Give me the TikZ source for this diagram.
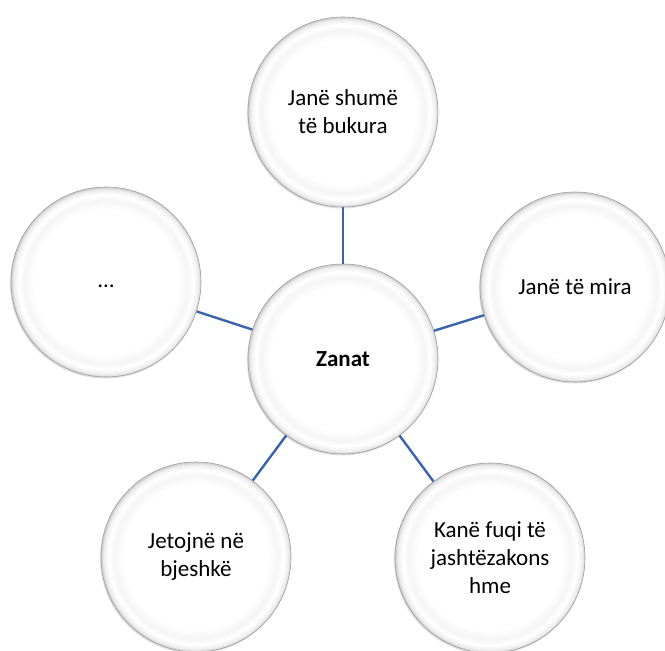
\documentclass[tikz,border=0pt]{standalone}
\usepackage{fontspec}
\setmainfont{Carlito}
\usetikzlibrary{shadows}
\definecolor{linkblue}{HTML}{3B64AD}
\pgfdeclareradialshading{bubbleshade}{\pgfpoint{0bp}{0bp}}{color(0bp)=(white); color(19bp)=(white); color(21.5bp)=(black!4); color(23bp)=(white); color(24.3bp)=(black!7); color(25bp)=(black!20); color(50bp)=(black!20)}
\begin{document}
\begin{tikzpicture}[x=1pt,y=-1pt]
	\tikzset{bubble/.style={circle, minimum size=190pt, inner sep=0pt, draw=black!38, line width=0.6pt, shading=bubbleshade, align=center, font=\fontsize{23}{28}\selectfont, drop shadow={shadow xshift=-1pt, shadow yshift=-1.5pt, opacity=0.2, fill=black!60}},
		link/.style={draw=linkblue, line width=2.4pt}}
	\useasboundingbox (0,0) rectangle (665,651);
	\node [bubble] (zanat) at (343,359) {\textbf{Zanat}};
	\node [bubble] (bukura) at (343,112) {Janë shumë\\të bukura};
	\node [bubble] (mira) at (575,287) {Janë të mira};
	\node [bubble] (fuqi) at (490,558) {Kanë fuqi të\\jashtëzakons\\hme};
	\node [bubble] (bjeshke) at (196,557) {Jetojnë në\\bjeshkë};
	\node [bubble] (tjeter) at (106,282) {\strut…};
	\draw [link] (zanat) -- (bukura);
	\draw [link] (zanat) -- (mira);
	\draw [link] (zanat) -- (fuqi);
	\draw [link] (zanat) -- (bjeshke);
	\draw [link] (zanat) -- (tjeter);
\end{tikzpicture}
\end{document}
